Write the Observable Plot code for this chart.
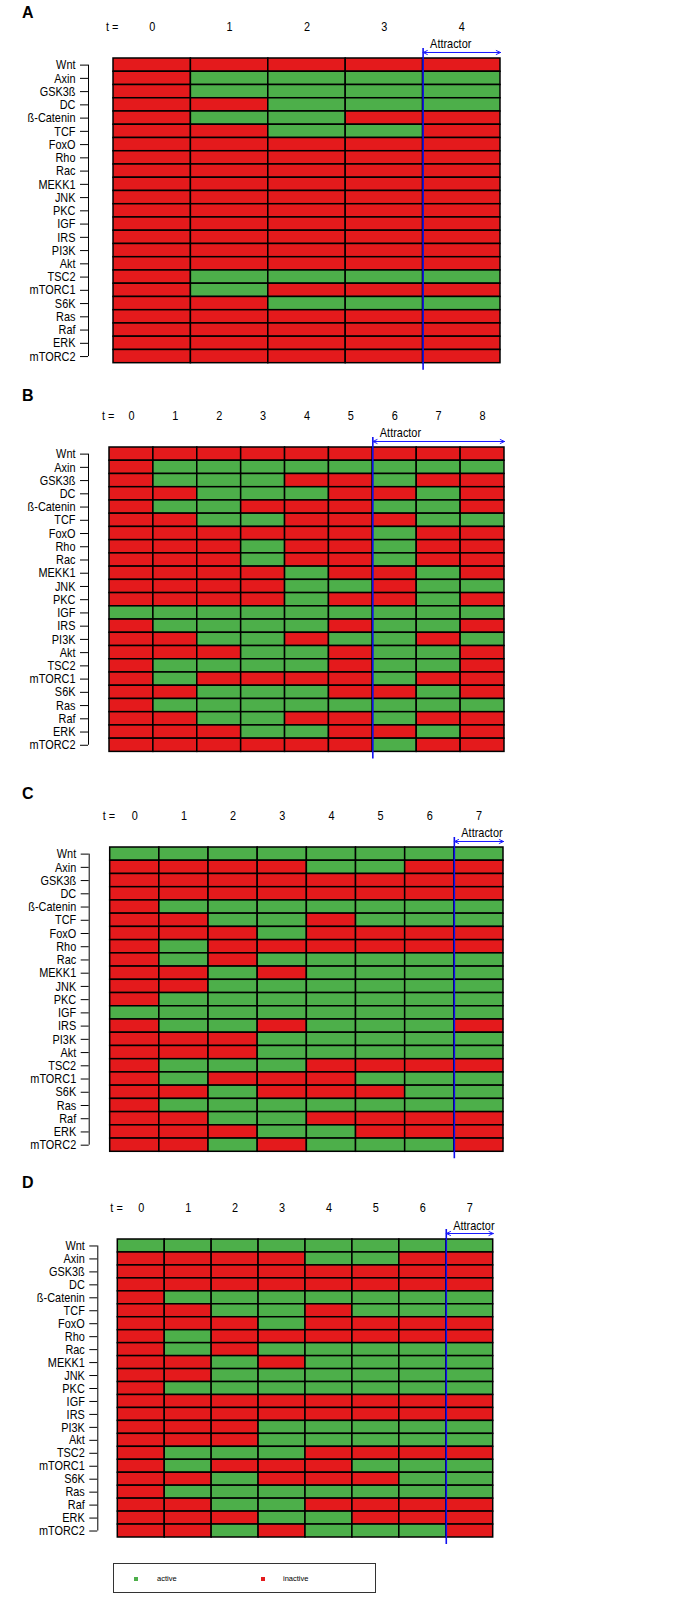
<!DOCTYPE html>
<html>
<head>
<meta charset="utf-8">
<script src="https://cdn.jsdelivr.net/npm/d3@7"></script>
<script src="https://cdn.jsdelivr.net/npm/@observablehq/plot@0.6"></script>
<style>
  html, body { margin: 0; padding: 0; background: #fff; }
  body { width: 687px; height: 1599px; position: relative; overflow: hidden; }
  .panel { position: absolute; left: 0; }
  .letter { position: absolute; left: 22px; font: bold 16px/16px "Liberation Sans", Arial, sans-serif; color: #000; }
  .legend { position: absolute; left: 113px; top: 1563px; width: 263px; height: 30px; border: 1px solid #333; box-sizing: border-box; font: 7.5px "Liberation Sans", Arial, sans-serif; color: #000; }
  .legend .sw { position: absolute; width: 4px; height: 4px; top: 12.5px; }
  .legend .lb { position: absolute; top: 9.5px; line-height: 10px; }
</style>
</head>
<body>
<script>
// ---------- data ----------
const genes = ["Wnt","Axin","GSK3ß","DC","ß-Catenin","TCF","FoxO","Rho","Rac","MEKK1","JNK","PKC","IGF","IRS","PI3K","Akt","TSC2","mTORC1","S6K","Ras","Raf","ERK","mTORC2"];

const timesA = [0,1,2,3,4];
const timesB = [0,1,2,3,4,5,6,7,8];
const timesC = [0,1,2,3,4,5,6,7];
const timesD = [0,1,2,3,4,5,6,7];

// 1 = active (green), 0 = inactive (red); one row per gene, one column per time step
const statesA = [
  [0,0,0,0,0],[0,1,1,1,1],[0,1,1,1,1],[0,0,1,1,1],[0,1,1,0,0],[0,0,1,1,0],
  [0,0,0,0,0],[0,0,0,0,0],[0,0,0,0,0],[0,0,0,0,0],[0,0,0,0,0],[0,0,0,0,0],
  [0,0,0,0,0],[0,0,0,0,0],[0,0,0,0,0],[0,0,0,0,0],
  [0,1,1,1,1],[0,1,0,0,0],[0,0,1,1,1],
  [0,0,0,0,0],[0,0,0,0,0],[0,0,0,0,0],[0,0,0,0,0]
];
const statesB = [
  [0,0,0,0,0,0,0,0,0],[0,1,1,1,1,1,1,1,1],[0,1,1,1,0,0,1,0,0],[0,0,1,1,1,0,0,1,0],
  [0,1,1,0,0,0,1,1,0],[0,0,1,1,0,0,0,1,1],[0,0,0,0,0,0,1,0,0],[0,0,0,1,0,0,1,0,0],
  [0,0,0,1,0,0,1,0,0],[0,0,0,0,1,0,0,1,0],[0,0,0,0,1,1,0,1,1],[0,0,0,0,1,0,0,1,0],
  [1,1,1,1,1,1,1,1,1],[0,1,1,1,1,0,1,1,0],[0,0,1,1,0,1,1,0,1],[0,0,0,1,1,0,1,1,0],
  [0,1,1,1,1,0,1,1,0],[0,1,0,0,0,0,1,0,0],[0,0,1,1,1,0,0,1,0],[0,1,1,1,1,1,1,1,1],
  [0,0,1,1,0,0,1,0,0],[0,0,0,1,1,0,0,1,0],[0,0,0,0,0,0,1,0,0]
];
const statesC = [
  [1,1,1,1,1,1,1,1],[0,0,0,0,1,1,0,0],[0,0,0,0,0,0,0,0],[0,0,0,0,0,0,0,0],
  [0,1,1,1,1,1,1,1],[0,0,1,1,0,1,1,1],[0,0,0,1,0,0,0,0],[0,1,0,0,0,0,0,0],
  [0,1,0,1,1,1,1,1],[0,0,1,0,1,1,1,1],[0,0,1,1,1,1,1,1],[0,1,1,1,1,1,1,1],
  [1,1,1,1,1,1,1,1],[0,1,1,0,1,1,1,0],[0,0,0,1,1,1,1,1],[0,0,0,1,1,1,1,1],
  [0,1,1,1,0,0,0,0],[0,1,0,0,0,1,1,1],[0,0,1,0,0,0,1,1],[0,1,1,1,1,1,1,1],
  [0,0,1,1,0,0,0,0],[0,0,0,1,1,0,0,0],[0,0,1,0,1,1,1,0]
];
const statesD = [
  [1,1,1,1,1,1,1,1],[0,0,0,0,1,1,0,0],[0,0,0,0,0,0,0,0],[0,0,0,0,0,0,0,0],
  [0,1,1,1,1,1,1,1],[0,0,1,1,0,1,1,1],[0,0,0,1,0,0,0,0],[0,1,0,0,0,0,0,0],
  [0,1,0,1,1,1,1,1],[0,0,1,0,1,1,1,1],[0,0,1,1,1,1,1,1],[0,1,1,1,1,1,1,1],
  [0,0,0,0,0,0,0,0],[0,0,0,0,0,0,0,0],[0,0,0,1,1,1,1,1],[0,0,0,1,1,1,1,1],
  [0,1,1,1,0,0,0,0],[0,1,0,0,0,1,1,1],[0,0,1,0,0,0,1,1],[0,1,1,1,1,1,1,1],
  [0,0,1,1,0,0,0,0],[0,0,0,1,1,0,0,0],[0,0,1,0,1,1,1,0]
];

const attractorStart = {A: 4, B: 6, C: 7, D: 7};
const panelLetters = ["A","B","C","D"];
const legendLabels = ["active","inactive"];

// ---------- styling / layout ----------
const GREEN = "#4DAF4A", RED = "#E41A1C";
const FONT = '"Liberation Sans", Arial, sans-serif';
const NARROW = 0.84; // horizontal compression to mimic a narrow Helvetica
const W = 687, MT = 58, MB = 20;

const layout = [
  {key: "A", times: timesA, states: statesA, top: 58,    bottom: 362.7,  left: 113,   right: 500,   gap: 25, letterTop: 5},
  {key: "B", times: timesB, states: statesB, top: 447.3, bottom: 751.7,  left: 109,   right: 504,   gap: 21, letterTop: 388},
  {key: "C", times: timesC, states: statesC, top: 846.7, bottom: 1151,   left: 109.7, right: 503,   gap: 21, letterTop: 786},
  {key: "D", times: timesD, states: statesD, top: 1239.3,bottom: 1537.3, left: 117.3, right: 492.7, gap: 20, letterTop: 1175}
];

function makePanel(p) {
  const n = p.times.length;
  const cells = [];
  p.states.forEach((row, i) => row.forEach((v, k) => cells.push({i, t: p.times[k], v})));
  const a = attractorStart[p.key];
  const H = MT + (p.bottom - p.top) + MB;
  const svg = Plot.plot({
    width: W, height: H,
    marginLeft: p.left, marginRight: W - p.right, marginTop: MT, marginBottom: MB,
    x: {domain: [0, n], axis: null},
    y: {domain: [0, genes.length], reverse: true},
    style: {fontFamily: FONT, fontSize: "13px", color: "#000", background: "transparent", overflow: "visible"},
    marks: [
      Plot.rect(cells, {x1: "t", x2: d => d.t + 1, y1: "i", y2: d => d.i + 1,
        fill: d => d.v ? GREEN : RED, stroke: "#000", strokeWidth: 1.5}),
      Plot.axisY({ticks: genes.map((g, i) => i + 0.5), tickFormat: v => genes[Math.round(v - 0.5)],
        tickSize: 8, tickPadding: 5, dx: -p.gap, label: null, fontSize: 13}),
      Plot.ruleX([0], {y1: 0.5, y2: genes.length - 0.5, dx: -p.gap, stroke: "#000"}),
      Plot.text(p.times, {x: t => t + 0.5, frameAnchor: "top", dy: -37, text: t => String(t), fontSize: 13}),
      Plot.text(["t ="], {frameAnchor: "top-left", dx: 5, dy: -37, textAnchor: "end", text: d => d, fontSize: 13}),
      Plot.ruleX([a], {stroke: "#1010f0", strokeWidth: 1.6, insetTop: -10, insetBottom: -7}),
      Plot.arrow([a], {x1: d => d, x2: n, y1: 0, y2: 0, dy: -6, stroke: "#1a1aff", strokeWidth: 1, headLength: 7, headAngle: 50}),
      Plot.arrow([a], {x1: n, x2: d => d, y1: 0, y2: 0, dy: -6, stroke: "#1a1aff", strokeWidth: 1, headLength: 7, headAngle: 50}),
      Plot.text(["Attractor"], {x: a, frameAnchor: "top", dx: 7, dy: -10, textAnchor: "start", lineAnchor: "bottom", text: d => d, fontSize: 13})
    ]
  });
  // compress glyphs horizontally around each text's own anchor point
  svg.querySelectorAll("text").forEach(t => {
    const tr = t.getAttribute("transform") || "";
    t.setAttribute("transform", (tr + ` scale(${NARROW},1)`).trim());
    if (!tr) {
      const x = +t.getAttribute("x") || 0;
      if (x) t.setAttribute("x", x / NARROW);
    }
  });
  svg.classList.add("panel");
  svg.style.top = (p.top - MT) + "px";
  document.body.appendChild(svg);

  const letter = document.createElement("div");
  letter.className = "letter";
  letter.style.top = p.letterTop + "px";
  letter.textContent = p.key;
  document.body.appendChild(letter);
}

layout.forEach(makePanel);

// legend
const legend = document.createElement("div");
legend.className = "legend";
const legendItems = [
  {label: legendLabels[0], color: GREEN, sw: 20, lb: 43},
  {label: legendLabels[1], color: RED, sw: 147, lb: 169}
];
legendItems.forEach(it => {
  const s = document.createElement("div");
  s.className = "sw"; s.style.left = it.sw + "px"; s.style.background = it.color;
  const l = document.createElement("div");
  l.className = "lb"; l.style.left = it.lb + "px"; l.textContent = it.label;
  legend.appendChild(s); legend.appendChild(l);
});
document.body.appendChild(legend);
</script>
</body>
</html>
